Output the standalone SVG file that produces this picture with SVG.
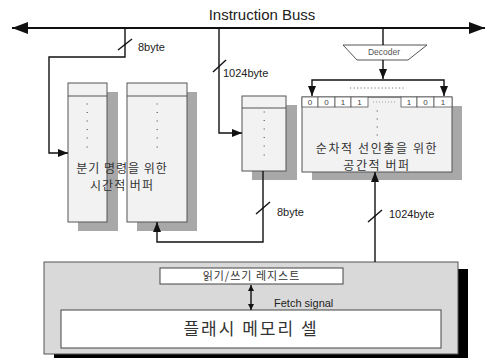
<svg xmlns="http://www.w3.org/2000/svg" width="486" height="359" viewBox="0 0 486 359">
<style>
.ln{fill:none;stroke:#111;stroke-width:1.4}
.bus{fill:none;stroke:#111;stroke-width:2}
.buf{fill:#f2f2f2;stroke:#555;stroke-width:1}
.sh{fill:#a8a8a8}
.dot{stroke:#777;stroke-width:1}
.lbl{font-family:"Liberation Sans",Arial,sans-serif;font-size:11px;fill:#222}
.kr{font-family:"Noto Sans CJK KR","Noto Sans",sans-serif;fill:#333}
.cell{fill:#fff;stroke:#555;stroke-width:0.8}
.bit{font-family:"Liberation Sans",Arial,sans-serif;font-size:8px;fill:#444;text-anchor:middle}
</style>
<defs>
<marker id="ah" viewBox="0 0 10 8" refX="10" refY="4" markerWidth="10" markerHeight="8" markerUnits="userSpaceOnUse" orient="auto-start-reverse">
<path d="M0,0 L10,4 L0,8 Z" fill="#111"/>
</marker>
<marker id="ahb" viewBox="0 0 16 12" refX="16" refY="6" markerWidth="16" markerHeight="12" markerUnits="userSpaceOnUse" orient="auto-start-reverse">
<path d="M0,0 L16,6 L0,12 Z" fill="#111"/>
</marker>
<marker id="ahs" viewBox="0 0 6 6" refX="6" refY="3" markerWidth="6" markerHeight="6" markerUnits="userSpaceOnUse" orient="auto-start-reverse">
<path d="M0,0 L6,3 L0,6 Z" fill="#111"/>
</marker>
</defs>

<text x="262" y="20" text-anchor="middle" style="font-family:'Liberation Sans',Arial,sans-serif;font-size:15px;fill:#222">Instruction Buss</text>

<g id="bottom-box">
<rect x="54" y="269" width="414" height="89" fill="#000"/>
<rect x="44" y="262" width="414" height="92" fill="#d9d9d9" stroke="#555" stroke-width="1"/>
</g>
<g id="register">
<rect x="160" y="268" width="183" height="16" fill="#fff" stroke="#444" stroke-width="1"/>
<text class="kr" x="251.5" y="280" text-anchor="middle" font-size="11" letter-spacing="1">읽기/쓰기 레지스트</text>
</g>
<g id="flash">
<rect x="61" y="310" width="380" height="38" fill="#fff" stroke="#444" stroke-width="1"/>
<text class="kr" x="251" y="334.5" text-anchor="middle" font-size="17" letter-spacing="2" fill="#222">플래시 메모리 셀</text>
</g>

<g id="buffer-left">
<rect class="sh" x="78" y="92" width="40" height="139"/>
<rect class="buf" x="68" y="83" width="39" height="139"/>
<line x1="68" y1="96" x2="107" y2="96" stroke="#555"/>
<g class="dot"><line x1="86.5" y1="104" x2="88" y2="104"/><line x1="86.5" y1="112.5" x2="88" y2="112.5"/><line x1="86.5" y1="121" x2="88" y2="121"/><line x1="86.5" y1="129.5" x2="88" y2="129.5"/><line x1="86.5" y1="138" x2="88" y2="138"/><line x1="86.5" y1="147" x2="88" y2="147"/></g>
</g>
<g id="buffer-left2">
<rect class="sh" x="137" y="92" width="60" height="139"/>
<rect class="buf" x="127" y="83" width="60" height="139"/>
<line x1="127" y1="96" x2="187" y2="96" stroke="#555"/>
<g class="dot"><line x1="156.5" y1="104" x2="158" y2="104"/><line x1="156.5" y1="112.5" x2="158" y2="112.5"/><line x1="156.5" y1="121" x2="158" y2="121"/><line x1="156.5" y1="129.5" x2="158" y2="129.5"/><line x1="156.5" y1="138" x2="158" y2="138"/><line x1="156.5" y1="147" x2="158" y2="147"/></g>
</g>
<g id="temporal-label">
<text class="kr" x="122" y="173" text-anchor="middle" font-size="12" letter-spacing="1">분기 명령을 위한</text>
<text class="kr" x="122" y="190" text-anchor="middle" font-size="12" letter-spacing="1">시간적 버퍼</text>
</g>

<g id="buffer-mid">
<rect class="sh" x="252" y="105" width="45" height="75"/>
<rect class="buf" x="242" y="96" width="44" height="75"/>
<line x1="242" y1="108" x2="286" y2="108" stroke="#555"/>
<g class="dot"><line x1="263.5" y1="112" x2="265" y2="112"/><line x1="263.5" y1="120.5" x2="265" y2="120.5"/><line x1="263.5" y1="129" x2="265" y2="129"/><line x1="263.5" y1="137.5" x2="265" y2="137.5"/><line x1="263.5" y1="146" x2="265" y2="146"/><line x1="263.5" y1="155" x2="265" y2="155"/></g>
</g>

<g id="buffer-right">
<rect class="sh" x="312" y="106" width="150" height="74"/>
<rect class="buf" x="302" y="97" width="150" height="75"/>
<rect class="cell" x="302" y="97" width="16" height="10"/>
<rect class="cell" x="318" y="97" width="17" height="10"/>
<rect class="cell" x="335" y="97" width="16" height="10"/>
<rect class="cell" x="351" y="97" width="17" height="10"/>
<rect class="cell" x="401" y="97" width="16" height="10"/>
<rect class="cell" x="417" y="97" width="17" height="10"/>
<rect class="cell" x="434" y="97" width="18" height="10"/>
<line x1="368" y1="97" x2="401" y2="97" stroke="#555" stroke-width="0.8"/>
<text class="bit" x="310" y="105">0</text>
<text class="bit" x="326.5" y="105">0</text>
<text class="bit" x="343" y="105">1</text>
<text class="bit" x="359.5" y="105">1</text>
<text class="bit" x="409" y="105">1</text>
<text class="bit" x="425.5" y="105">0</text>
<text class="bit" x="443" y="105">1</text>
<line x1="373" y1="102" x2="396" y2="102" stroke="#888" stroke-width="0.8" stroke-dasharray="1 2"/>
<line x1="350" y1="88" x2="404" y2="88" stroke="#666" stroke-width="0.9" stroke-dasharray="1.2 2.3"/>
<g class="dot"><line x1="376.5" y1="111" x2="378" y2="111"/><line x1="376.5" y1="119" x2="378" y2="119"/><line x1="376.5" y1="127" x2="378" y2="127"/><line x1="376.5" y1="135" x2="378" y2="135"/></g>
<text class="kr" x="377" y="153" text-anchor="middle" font-size="12" letter-spacing="1.6">순차적 선인출을 위한</text>
<text class="kr" x="377" y="170" text-anchor="middle" font-size="12" letter-spacing="1.6">공간적 버퍼</text>
</g>

<g id="decoder">
<polygon points="343,45 427,45 408,60 357,60" fill="#fff" stroke="#555" stroke-width="1"/>
<text x="384" y="55" text-anchor="middle" style="font-family:'Liberation Sans',Arial,sans-serif;font-size:8.5px;fill:#555">Decoder</text>
</g>

<g id="connectors">
<line class="bus" x1="12" y1="28" x2="485" y2="28" marker-start="url(#ahb)" marker-end="url(#ahb)"/>
<path class="ln" d="M125,28 V57 H49 V153 H68" marker-end="url(#ah)"/>
<path class="ln" d="M219,28 V133 H242" marker-end="url(#ah)"/>
<line class="ln" x1="383" y1="28" x2="383" y2="45"/>
<line class="ln" x1="383" y1="60" x2="383" y2="79" marker-end="url(#ah)"/>
<path class="ln" d="M312,96 V80 H444 V96" marker-start="url(#ah)" marker-end="url(#ah)"/>
<path class="ln" d="M263,171 V242 H157 V222" marker-end="url(#ah)"/>
<line class="ln" x1="375" y1="262" x2="375" y2="172" marker-end="url(#ah)"/>
<line class="ln" x1="251" y1="285" x2="251" y2="310" marker-start="url(#ahs)" marker-end="url(#ahs)"/>
<line class="ln" x1="118" y1="50" x2="132" y2="39"/>
<line class="ln" x1="213" y1="72" x2="226" y2="60"/>
<line class="ln" x1="256" y1="214" x2="270" y2="202"/>
<line class="ln" x1="368" y1="222" x2="382" y2="210"/>
<text class="lbl" x="138" y="51">8byte</text>
<text class="lbl" x="223" y="77">1024byte</text>
<text class="lbl" x="277" y="216">8byte</text>
<text class="lbl" x="389" y="218">1024byte</text>
<text class="lbl" x="274" y="307">Fetch signal</text>
</g>
</svg>
